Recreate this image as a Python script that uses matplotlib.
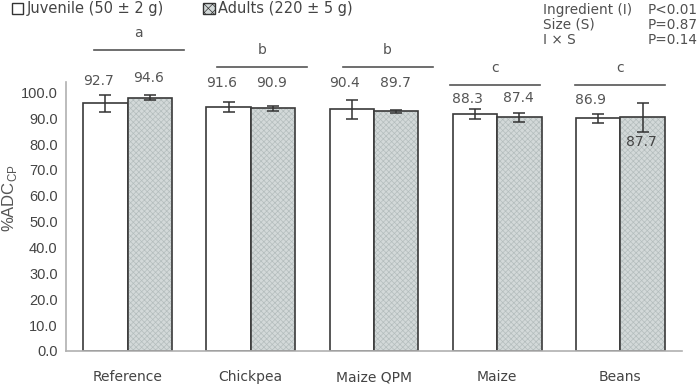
import matplotlib
matplotlib.use("Agg")
import matplotlib.pyplot as plt
from matplotlib.patches import Patch
import numpy as np

# ---------------- data ----------------
categories = ["Reference", "Chickpea", "Maize QPM", "Maize", "Beans"]
juvenile = [95.7, 94.2, 93.4, 91.5, 90.0]
adults = [98.0, 93.8, 92.7, 90.3, 90.3]
juvenile_err = [3.2, 1.9, 3.8, 1.9, 1.8]
adults_err = [0.8, 1.0, 0.6, 1.7, 5.6]
juvenile_labels = ["92.7", "91.6", "90.4", "88.3", "86.9"]
adults_labels = ["94.6", "90.9", "89.7", "87.4", "87.7"]
letters = ["a", "b", "b", "c", "c"]
yticks = [0, 10, 20, 30, 40, 50, 60, 70, 80, 90, 100]
stats_names = ["Ingredient (I)", "Size (S)", "I \u00d7 S"]
stats_p = ["P<0.01", "P=0.87", "P=0.14"]
legend_labels = ["Juvenile (50 \u00b1 2 g)", "Adults (220 \u00b1 5 g)"]

# ---------------- layout (positions only) ----------------
juv_label_y = [104.4, 103.6, 103.6, 97.4, 97.0]
adu_label_y = [105.5, 103.6, 103.6, 97.8, 80.8]
sig_line_y = [116.4, 109.8, 109.8, 102.8, 102.8]
sig_offset = [0.09, 0.09, 0.11, -0.02, 0.0]

plt.rcParams["hatch.linewidth"] = 0.5

fig = plt.figure(figsize=(6.99, 3.90), dpi=100)
ax = fig.add_axes([66 / 699, 1 - 351 / 390, (682 - 66) / 699, (351 - 82) / 390])

x = np.arange(len(categories))
w = 0.36
edge = "#3a3a3a"
fill_adult = "#d3d9d9"
hatch_col = "#b4bdbd"
ax.bar(x - w / 2, juvenile, w, color="white", edgecolor=edge, linewidth=1.2, zorder=2)
# adult fill with light hatch, then dark outline
ax.bar(x + w / 2, adults, w, color=fill_adult, edgecolor=hatch_col, linewidth=0,
       hatch="xxxxxx", zorder=2)
ax.bar(x + w / 2, adults, w, fill=False, edgecolor=edge, linewidth=1.2, zorder=2.1)
ax.errorbar(x - w / 2, juvenile, yerr=juvenile_err, fmt="none", ecolor="#333333",
            elinewidth=1.1, capsize=4, capthick=1.1, zorder=3)
ax.errorbar(x + w / 2, adults, yerr=adults_err, fmt="none", ecolor="#333333",
            elinewidth=1.1, capsize=4, capthick=1.1, zorder=3)

txt_col = "#555555"
for i in range(len(categories)):
    ax.text(x[i] - w / 2 - 0.06, juv_label_y[i], juvenile_labels[i], ha="center",
            va="center", fontsize=10, color=txt_col, clip_on=False, zorder=5)
    ax.text(x[i] + w / 2 - 0.01, adu_label_y[i], adults_labels[i], ha="center",
            va="center", fontsize=10, color="#444444" if i == 4 else txt_col,
            clip_on=False, zorder=5)
    cx = x[i] + sig_offset[i]
    ax.plot([cx - 0.365, cx + 0.365], [sig_line_y[i], sig_line_y[i]], color="#555555",
            lw=1.2, clip_on=False)
    ax.text(cx, sig_line_y[i] + 6.6, letters[i], ha="center", va="center",
            fontsize=10, color=txt_col, clip_on=False)

ax.set_xlim(-0.5, len(categories) - 0.5)
ax.set_ylim(0, 104)
ax.set_yticks(yticks)
ax.set_yticklabels([f"{t:.1f}" for t in yticks], fontsize=10.5, color="#444444",
                   family="Liberation Sans")
ax.set_xticks(x)
ax.set_xticklabels(categories, fontsize=10, color="#444444")
ax.tick_params(axis="both", length=0)
ax.tick_params(axis="x", pad=14)
ax.tick_params(axis="y", pad=6)
for s in ["top", "right"]:
    ax.spines[s].set_visible(False)
ax.spines["left"].set_color("#b0b0b0")
ax.spines["bottom"].set_color("#b0b0b0")
ax.spines["left"].set_linewidth(1.2)
ax.spines["bottom"].set_linewidth(1.2)

ax.set_ylabel("%ADC$_{\\mathregular{CP}}$", fontsize=12, color="#555555",
              family="Liberation Sans")
ax.yaxis.set_label_coords(-0.076, 0.57)

handles = [Patch(facecolor="white", edgecolor="#333333", linewidth=1),
           Patch(facecolor=fill_adult, edgecolor="#333333", linewidth=1, hatch="xxxx")]
fig.legend(handles, legend_labels, loc="upper left", bbox_to_anchor=(-0.002, 1.03),
           ncol=2, frameon=False, fontsize=10.5, handlelength=0.8, handleheight=0.8,
           handletextpad=0.2, columnspacing=2.7, labelcolor="#444444")

for j in range(3):
    fig.text(543 / 699, 1 - (10 + 15 * j) / 390, stats_names[j], fontsize=9.8,
             color="#505050", va="center", ha="left")
    fig.text(648 / 699, 1 - (10 + 15 * j) / 390, stats_p[j], fontsize=9.8,
             color="#505050", va="center", ha="left")

fig.savefig("out.png", dpi=100)
